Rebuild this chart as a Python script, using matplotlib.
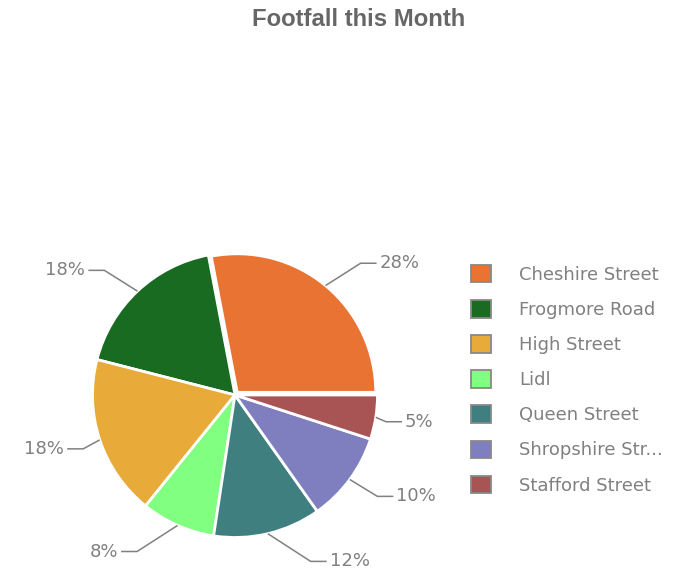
import numpy as np
import matplotlib
matplotlib.use("Agg")
import matplotlib.pyplot as plt
from matplotlib.patches import Patch

# footfall share per location (percent)
locations = ["Cheshire Street", "Frogmore Road", "High Street", "Lidl",
             "Queen Street", "Shropshire Street", "Stafford Street"]
footfall = [28.0, 18.0, 18.2, 8.4, 12.2, 10.2, 5.0]
colors = ["#E87333", "#1A6B22", "#E8AB3A", "#80FF80", "#407F7F", "#7F7FBF", "#A85454"]
explode = [3.5, 0, 0, 0, 0, 0, 0]

grey = "#808080"
plt.rcParams['font.family'] = ['DejaVu Sans']

fig = plt.figure(figsize=(6.86, 5.70), dpi=100)
ax = fig.add_axes([0, 0, 1, 1])

# work in pixel units: 686 x 570
cx, cy, r = 235, 175, 142.5
wedges, _ = ax.pie(footfall, colors=colors, startangle=0, counterclock=True,
                   radius=r, center=(cx, cy), explode=explode,
                   wedgeprops=dict(edgecolor="white", linewidth=2))
# the pulled-out slice is drawn a bit smaller
wedges[0].set_radius(r - 4)
ax.set_xlim(0, 686)
ax.set_ylim(0, 570)
ax.set_aspect("auto")
ax.axis("off")

total = sum(footfall)
for w, v in zip(wedges, footfall):
    a = np.deg2rad((w.theta1 + w.theta2) / 2)
    x0, y0 = w.center
    p0 = (x0 + w.r * np.cos(a), y0 + w.r * np.sin(a))
    side = 1 if np.cos(a) >= 0 else -1
    dy = 0.2 * r * np.sin(a)
    p1 = (cx + r * np.cos(a) + side * (1.4 * abs(dy) + 4), cy + r * np.sin(a) + dy)
    p2 = (p1[0] + side * 16, p1[1])
    ax.plot([p0[0], p1[0], p2[0]], [p0[1], p1[1], p2[1]], color=grey, lw=1.1,
            solid_capstyle="butt")
    ax.text(p2[0] + side * 3, p2[1], f"{v / total * 100:.0f}%", color=grey,
            fontsize=13, ha="left" if side > 0 else "right", va="center")

def short(name, n=15):
    return name if len(name) <= n else name[:n - 1] + "..."

handles = [Patch(facecolor=c, edgecolor="#888888", linewidth=1.3) for c in colors]
leg = fig.legend(handles, [short(s) for s in locations], loc="upper left",
                 bbox_to_anchor=(471 / 686, 1 - 265 / 570), frameon=False,
                 fontsize=13, labelcolor=grey, handlelength=1.11, handleheight=1.11,
                 handletextpad=1.55, labelspacing=0.9, borderpad=0, borderaxespad=0)

fig.text(359 / 686, 1 - 19 / 570, "Footfall this Month", ha="center", va="center",
         fontsize=17.2, fontweight="bold", color="#666666", family="Liberation Sans")

fig.savefig("out.png", dpi=100)
